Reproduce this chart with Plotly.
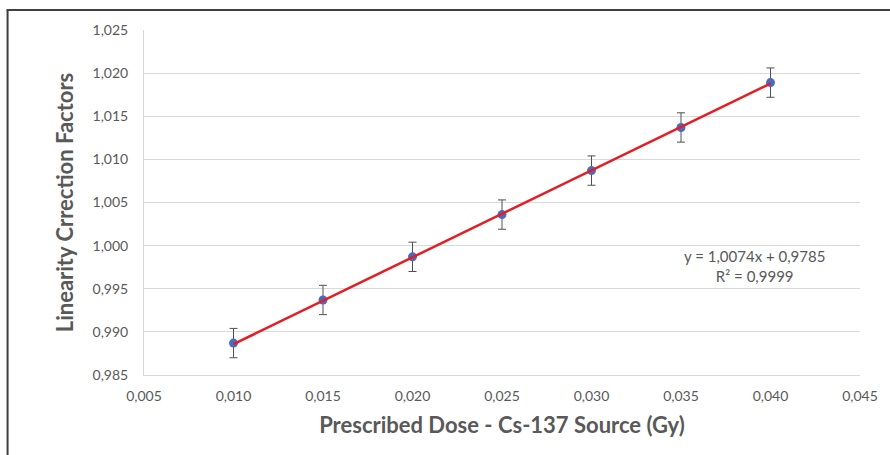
import plotly.graph_objects as go

# Measured linearity correction factors vs. prescribed dose
dose = [0.010, 0.015, 0.020, 0.025, 0.030, 0.035, 0.040]
factor = [0.9887, 0.9937, 0.9987, 1.0036, 1.0087, 1.0137, 1.0189]
factor_err = [0.0017, 0.0017, 0.0017, 0.0017, 0.0017, 0.0017, 0.0017]

# Linear fit coefficients (shown in the annotation)
slope = 1.0074
intercept = 0.9785
r_squared = 0.9999

x_ticks = [0.005, 0.010, 0.015, 0.020, 0.025, 0.030, 0.035, 0.040, 0.045]
y_ticks = [0.985, 0.990, 0.995, 1.000, 1.005, 1.010, 1.015, 1.020, 1.025]

fit_x = [min(dose), max(dose)]
fit_y = [slope * x + intercept for x in fit_x]

W, H = 890, 455
ML, MR, MT, MB = 144, 27, 30, 80
pw, ph = W - ML - MR, H - MT - MB


def px(x):
    return (x - ML) / pw


def py(y):
    return (H - MB - y) / ph


fig = go.Figure()
fig.add_trace(go.Scatter(
    x=dose, y=factor, mode="markers",
    marker=dict(color="#4A6CC0", size=9),
    error_y=dict(type="data", array=factor_err, visible=True,
                 color="#505050", thickness=1, width=4),
    showlegend=False,
))
fig.add_trace(go.Scatter(
    x=fit_x, y=fit_y, mode="lines",
    line=dict(color="#E31E24", width=2.5),
    showlegend=False,
))

FONT = "Lato, Open Sans, sans-serif"
tick_font = dict(family=FONT, size=14, color="#595959")
title_font = dict(family=FONT, size=22, color="#595959")

fig.update_layout(
    width=W, height=H,
    margin=dict(l=ML, r=MR, t=MT, b=MB),
    paper_bgcolor="white", plot_bgcolor="white",
    separators=",.",
    xaxis=dict(
        range=[0.005, 0.045], tickvals=x_ticks, tickformat=".3f",
        showgrid=False, zeroline=False,
        showline=True, linecolor="#D9D9D9", linewidth=1,
        tickfont=tick_font, ticks="", ticklabelstandoff=8,
        title=dict(text="<b>Prescribed Dose - Cs-137 Source (Gy)</b>",
                   font=title_font, standoff=14),
    ),
    yaxis=dict(
        range=[0.985, 1.025], tickvals=y_ticks, tickformat=".3f",
        showgrid=True, gridcolor="#D9D9D9", gridwidth=1, zeroline=False,
        showline=True, linecolor="#D9D9D9", linewidth=1,
        tickfont=tick_font, ticks="", ticklabelstandoff=12,
        title=dict(text="<b>Linearity Crrection Factors</b>",
                   font=title_font, standoff=12),
    ),
    annotations=[
        dict(
            x=px(757), y=py(266), xref="paper", yref="paper",
            xanchor="center", yanchor="middle",
            text=f"y = {slope:.4f}x + {intercept:.4f}".replace(".", ",")
                 + "<br>R² = " + f"{r_squared:.4f}".replace(".", ","),
            showarrow=False, align="center",
            font=dict(family=FONT, size=15, color="#595959"),
        )
    ],
    shapes=[
        dict(type="line", xref="paper", yref="paper",
             x0=px(7), x1=px(7), y0=py(10), y1=py(460),
             line=dict(color="#404040", width=2)),
        dict(type="line", xref="paper", yref="paper",
             x0=px(6), x1=px(895), y0=py(10), y1=py(10),
             line=dict(color="#404040", width=2)),
    ],
)

fig.write_html("out.html")
